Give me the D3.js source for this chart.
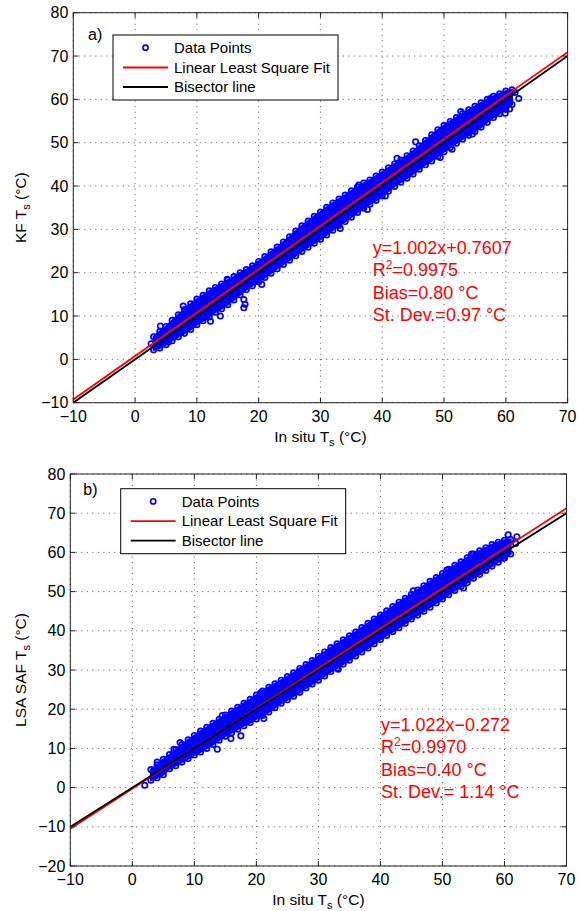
<!DOCTYPE html>
<html>
<head>
<meta charset="utf-8">
<script src="https://cdn.jsdelivr.net/npm/d3@7"></script>
<style>
body { margin: 0; background: #fff; }
svg { display: block; font-family: "Liberation Sans", Arial, Helvetica, sans-serif; }
</style>
</head>
<body>
<div id="chart"></div>
<script>
var insituGrid = [3,4,5,6,7,8,9,10,11,12,13,14,15,16,17,18,19,20,21,22,23,24,25,26,27,28,29,30,31,32,
  33,34,35,36,37,38,39,40,41,42,43,44,45,46,47,48,49,50,51,52,53,54,55,56,57,58,59,60,61];

// a) KF Ts : upper / lower edge of the dense cloud, plus stray points
var kfUpper = [5.2,6.4,7.6,9.0,10.3,11.5,12.8,13.9,14.8,15.8,16.6,17.4,18.3,19.1,20.0,20.7,21.6,22.6,23.7,24.8,
  25.9,27.1,28.3,29.6,30.8,31.9,33.0,34.0,35.1,36.1,37.0,37.9,38.9,39.8,40.7,41.4,42.3,43.2,44.2,45.1,
  46.0,47.0,48.1,49.3,50.5,51.8,53.0,54.0,54.9,55.8,56.7,57.6,58.4,59.2,60.0,60.7,61.3,61.9,62.2];
var kfLower = [2.2,2.6,3.4,4.3,5.2,6.0,6.9,8.0,8.9,9.8,10.9,11.7,12.6,13.7,14.9,16.1,17.0,17.9,18.9,19.9,
  20.9,21.9,22.9,23.9,24.9,25.9,26.8,27.7,28.7,29.8,30.9,31.8,32.8,33.9,34.9,35.8,36.7,37.7,38.8,39.9,
  40.9,41.8,42.8,43.9,44.9,45.8,46.8,47.9,48.9,49.9,50.8,51.7,52.6,53.6,54.7,55.8,56.7,57.7,58.8];
var kfOutX = [2.6,4.1,5.4,7.8,12.2,13.8,14.9,17.6,17.8,17.6,20.5,33.2,36.2,37.6,40.5,42.4,45.4,49.4,51.3,52.7,54.6,57.5,59.9,60.6,62.1,61.5];
var kfOutY = [3.6,7.7,4.0,12.3,8.8,10.0,18.5,13.8,12.7,11.9,17.3,30.2,40.2,34.6,37.7,46.4,50.2,46.6,48.5,57.2,52.0,60.2,56.8,57.8,60.2,61.6];

// b) LSA SAF Ts
var lsaUpper = [4.6,5.8,7.2,8.4,9.7,11.0,12.2,13.3,14.4,15.4,16.4,17.4,18.5,19.5,20.5,21.5,22.5,23.6,24.6,25.6,
  26.5,27.4,28.3,29.3,30.4,31.4,32.4,33.5,34.6,35.7,36.7,37.7,38.7,39.7,40.8,41.9,43.0,44.0,45.1,46.2,
  47.3,48.3,49.3,50.4,51.5,52.6,53.6,54.6,55.7,56.7,57.6,58.6,59.6,60.4,61.2,62.0,62.6,63.1,63.3];
var lsaLower = [1.9,2.5,3.3,4.8,5.6,6.5,7.4,8.3,9.1,10.0,11.0,12.1,13.1,14.0,14.9,15.8,16.6,17.5,18.4,19.3,
  20.4,21.5,22.4,23.3,24.3,25.4,26.4,27.4,28.5,29.6,30.5,31.5,32.5,33.6,34.6,35.6,36.7,37.8,38.8,39.8,
  40.8,41.9,43.0,44.0,45.0,46.0,47.1,48.1,49.2,50.3,51.3,52.3,53.4,54.4,55.4,56.5,57.5,58.6,59.6];
var lsaOutX = [2.0,4.0,6.7,7.7,13.7,14.5,15.9,17.5,20.7,21.2,33.2,45.3,50.7,53.4,54.7,59.8,60.6,62.0,61.8];
var lsaOutY = [0.6,6.5,9.8,11.5,9.8,18.4,12.5,13.2,24.2,17.6,30.2,50.2,55.5,50.9,59.6,58.5,64.5,64.0,62.3];

// fits: slope, intercept
var kfFit = [1.002, 0.7607];
var lsaFit = [1.022, -0.272];

var xTicks = [-10,0,10,20,30,40,50,60,70];
var kfYTicks = [-10,0,10,20,30,40,50,60,70,80];
var lsaYTicks = [-20,-10,0,10,20,30,40,50,60,70,80];

var legendLabels = ["Data Points", "Linear Least Square Fit", "Bisector line"];
var kfStats = ["y=1.002x+0.7607", "0.9975", "Bias=0.80 \u00B0C", "St. Dev.=0.97 \u00B0C"];
var lsaStats = ["y=1.022x\u22120.272", "0.9970", "Bias=0.40 \u00B0C", "St. Dev.= 1.14 \u00B0C"];

var BLUE = "#0000ff", RED = "#ff0000";

var visualize = function() {
  var svg = d3.select("#chart")
    .append("svg")
    .attr("width", 578)
    .attr("height", 911);

  drawPanel(svg, {
    name: "a", left: 73.3, right: 567.6, top: 12.7, bottom: 402.7,
    yTicks: kfYTicks, upper: kfUpper, lower: kfLower, outX: kfOutX, outY: kfOutY,
    fit: kfFit, stats: kfStats, statX: 372.7, statY: 253.5,
    legX: 113, legY: 35, tag: "a)", tagX: 88, tagY: 39.5, yTitle: "KF T"
  });

  drawPanel(svg, {
    name: "b", left: 70.3, right: 566.5, top: 474, bottom: 866,
    yTicks: lsaYTicks, upper: lsaUpper, lower: lsaLower, outX: lsaOutX, outY: lsaOutY,
    fit: lsaFit, stats: lsaStats, statX: 381, statY: 730.5,
    legX: 120.7, legY: 488.7, tag: "b)", tagX: 83.3, tagY: 495, yTitle: "LSA SAF  T"
  });
};

var drawPanel = function(svg, p) {
  var x = d3.scaleLinear().domain([-10, 70]).range([p.left, p.right]);
  var y = d3.scaleLinear()
    .domain([p.yTicks[0], p.yTicks[p.yTicks.length - 1]])
    .range([p.bottom, p.top]);
  var fmt = d3.format("d");

  var g = svg.append("g");

  // dotted grid
  g.selectAll(".vgrid").data(xTicks).enter().append("line")
    .attr("x1", function(d) { return x(d); })
    .attr("x2", function(d) { return x(d); })
    .attr("y1", p.top).attr("y2", p.bottom)
    .attr("stroke", "#555").attr("stroke-width", 1)
    .attr("stroke-dasharray", "1,4.5");
  g.selectAll(".hgrid").data(p.yTicks).enter().append("line")
    .attr("y1", function(d) { return y(d); })
    .attr("y2", function(d) { return y(d); })
    .attr("x1", p.left).attr("x2", p.right)
    .attr("stroke", "#555").attr("stroke-width", 1)
    .attr("stroke-dasharray", "1,4.5");

  svg.append("clipPath").attr("id", "clip" + p.name)
    .append("rect")
    .attr("x", p.left).attr("y", p.top)
    .attr("width", p.right - p.left).attr("height", p.bottom - p.top);

  var plot = g.append("g").attr("clip-path", "url(#clip" + p.name + ")");

  // dense core of the scatter
  var band = d3.area()
    .x(function(d, i) { return x(insituGrid[i]); })
    .y0(function(d, i) { return y(p.lower[i]); })
    .y1(function(d, i) { return y(p.upper[i]); });
  plot.append("path").datum(p.upper)
    .attr("d", band)
    .attr("fill", BLUE).attr("stroke", BLUE).attr("stroke-width", 2);

  // open circles on the cloud edges and the stray points
  var pts = [];
  insituGrid.forEach(function(v, i) {
    pts.push([v, p.upper[i]]);
    pts.push([v, p.lower[i]]);
  });
  p.outX.forEach(function(v, i) { pts.push([v, p.outY[i]]); });

  plot.selectAll("circle").data(pts).enter().append("circle")
    .attr("cx", function(d) { return x(d[0]); })
    .attr("cy", function(d) { return y(d[1]); })
    .attr("r", 2.7)
    .attr("fill", "none")
    .attr("stroke", BLUE).attr("stroke-width", 1.7);

  // fit line, then bisector on top
  var line = d3.line()
    .x(function(d) { return x(d[0]); })
    .y(function(d) { return y(d[1]); });
  var dom = x.domain();
  plot.append("path")
    .datum(dom.map(function(v) { return [v, p.fit[0] * v + p.fit[1]]; }))
    .attr("d", line).attr("fill", "none")
    .attr("stroke", RED).attr("stroke-width", 1.8);
  plot.append("path")
    .datum(dom.map(function(v) { return [v, v]; }))
    .attr("d", line).attr("fill", "none")
    .attr("stroke", "#000").attr("stroke-width", 1.8);

  // box and inward ticks on all sides
  g.append("rect")
    .attr("x", p.left).attr("y", p.top)
    .attr("width", p.right - p.left).attr("height", p.bottom - p.top)
    .attr("fill", "none").attr("stroke", "#222").attr("stroke-width", 1);

  var tl = 5;
  xTicks.forEach(function(d) {
    g.append("line").attr("x1", x(d)).attr("x2", x(d))
      .attr("y1", p.bottom).attr("y2", p.bottom - tl).attr("stroke", "#222");
    g.append("line").attr("x1", x(d)).attr("x2", x(d))
      .attr("y1", p.top).attr("y2", p.top + tl).attr("stroke", "#222");
  });
  p.yTicks.forEach(function(d) {
    g.append("line").attr("y1", y(d)).attr("y2", y(d))
      .attr("x1", p.left).attr("x2", p.left + tl).attr("stroke", "#222");
    g.append("line").attr("y1", y(d)).attr("y2", y(d))
      .attr("x1", p.right).attr("x2", p.right - tl).attr("stroke", "#222");
  });

  // tick labels
  g.selectAll(".xlab").data(xTicks).enter().append("text")
    .attr("x", function(d) { return x(d); })
    .attr("y", p.bottom + 19)
    .attr("text-anchor", "middle")
    .attr("font-size", 16)
    .text(function(d) { return fmt(d); });
  g.selectAll(".ylab").data(p.yTicks).enter().append("text")
    .attr("x", p.left - 5)
    .attr("y", function(d) { return y(d) + 5.5; })
    .attr("text-anchor", "end")
    .attr("font-size", 16)
    .text(function(d) { return fmt(d); });

  // axis titles
  var xt = g.append("text")
    .attr("x", (p.left + p.right) / 2)
    .attr("y", p.bottom + 39)
    .attr("text-anchor", "middle")
    .attr("font-size", 15.5);
  xt.append("tspan").text("In situ T");
  xt.append("tspan").attr("dy", 4).attr("font-size", 11).text("s");
  xt.append("tspan").attr("dy", -4).text(" (\u00B0C)");

  var yt = g.append("text")
    .attr("transform", "translate(26," + ((p.top + p.bottom) / 2) + ") rotate(-90)")
    .attr("text-anchor", "middle")
    .attr("font-size", 15.5);
  yt.append("tspan").text(p.yTitle);
  yt.append("tspan").attr("dy", 4).attr("font-size", 11).text("s");
  yt.append("tspan").attr("dy", -4).text(" (\u00B0C)");

  // panel tag
  g.append("text").attr("x", p.tagX).attr("y", p.tagY)
    .attr("font-size", 16).text(p.tag);

  // legend
  var leg = g.append("g").attr("transform", "translate(" + p.legX + "," + p.legY + ")");
  leg.append("rect").attr("width", 225).attr("height", 65)
    .attr("fill", "#fff").attr("stroke", "#000").attr("stroke-width", 1);
  leg.append("circle").attr("cx", 32.5).attr("cy", 12.7).attr("r", 2.6)
    .attr("fill", "none").attr("stroke", BLUE).attr("stroke-width", 1.6);
  leg.append("line").attr("x1", 10).attr("x2", 55).attr("y1", 32.5).attr("y2", 32.5)
    .attr("stroke", RED).attr("stroke-width", 1.8);
  leg.append("line").attr("x1", 10).attr("x2", 55).attr("y1", 52).attr("y2", 52)
    .attr("stroke", "#000").attr("stroke-width", 1.8);
  leg.selectAll(".lt").data(legendLabels).enter().append("text")
    .attr("x", 61)
    .attr("y", function(d, i) { return 18.2 + i * 19.6; })
    .attr("font-size", 15)
    .text(function(d) { return d; });

  // statistics annotation
  var st = g.append("g").attr("fill", RED).attr("font-size", 18);
  st.append("text").attr("x", p.statX).attr("y", p.statY).text(p.stats[0]);
  var r2 = st.append("text").attr("x", p.statX).attr("y", p.statY + 22.5);
  r2.append("tspan").text("R");
  r2.append("tspan").attr("dy", -7).attr("font-size", 12).text("2");
  r2.append("tspan").attr("dy", 7).text("=" + p.stats[1]);
  st.append("text").attr("x", p.statX).attr("y", p.statY + 45).text(p.stats[2]);
  st.append("text").attr("x", p.statX).attr("y", p.statY + 67.3).text(p.stats[3]);
};

visualize();
</script>
</body>
</html>
